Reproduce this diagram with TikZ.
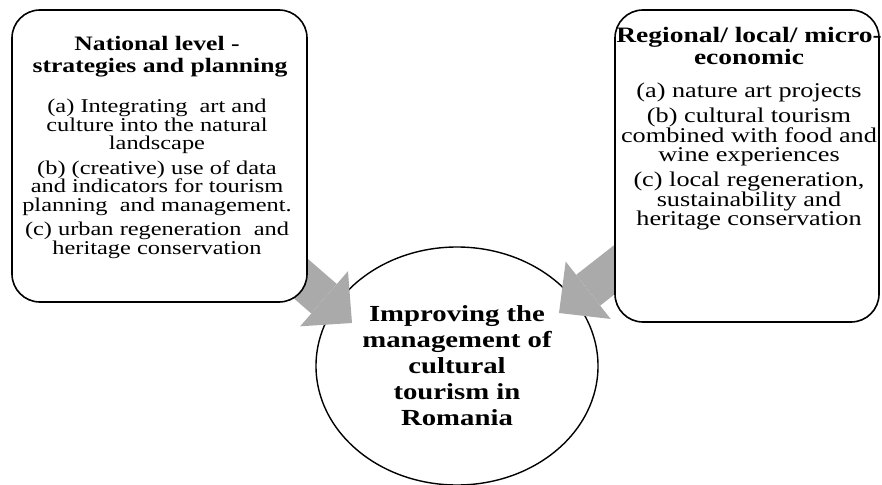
\documentclass[tikz,border=0pt]{standalone}
\usepackage{fontspec}
\setmainfont{Liberation Serif}[FakeStretch=1.25]
\usepackage{tikz}
\usetikzlibrary{arrows.meta,shapes.geometric,positioning}
\definecolor{arrowgray}{RGB}{170,170,170}

\begin{document}
\begin{tikzpicture}[x=1pt,y=-1pt,
        box/.style={draw,fill=white,rounded corners=28pt,line width=1.6pt,inner sep=0pt},
        head/.style={align=center,inner sep=0pt,font=\fontsize{20.5}{22}\selectfont\bfseries},
        body/.style={align=center,inner sep=0pt,font=\fontsize{19.5}{18.5}\selectfont},
        bigarrow/.style={arrowgray,line width=39pt,-{Triangle[width=73pt,length=37pt,line width=0pt]}}]
                \useasboundingbox (0,0) rectangle (882,484);

                \coordinate (natl-c) at (159.5,156);
                \coordinate (regl-c) at (747,166);
                \coordinate (natl-tip) at (352,323);
                \coordinate (regl-tip) at (559,313);

                \node[draw,ellipse,line width=1.4pt,minimum width=282pt,minimum height=238pt,
                        align=center,font=\fontsize{23}{26}\selectfont\bfseries] (goal) at (457,366)
                        {Improving the\\management of\\cultural\\tourism in\\Romania};

                \draw[bigarrow] (natl-c) -- (natl-tip);
                \draw[bigarrow] (regl-c) -- (regl-tip);

                \node[box,minimum width=295pt,minimum height=292pt] (natl) at (natl-c) {};
                \node[head,anchor=north] (natl-head) at (157,36) {National level\ -\\\hspace*{6pt}strategies and planning};
                \node[body,below=22pt of natl-head] (natl-body) {(a) Integrating\ \ art and\\culture into the natural\\landscape\\[6pt]
                        (b) (creative) use of data\\and indicators for tourism\\planning\ \ and management.\\[6pt]
                        (c) urban regeneration\ \ and\\heritage conservation};

                \node[box,minimum width=264pt,minimum height=312pt] (regl) at (regl-c) {};
                \node[head,anchor=north,font=\fontsize{22}{22}\selectfont\bfseries] (regl-head) at (749,27)
                        {Regional/ local/ micro-\\economic};
                \node[body,below=18pt of regl-head,font=\fontsize{21}{19.5}\selectfont] (regl-body) {(a) nature art projects\\[5.5pt]
                        (b) cultural tourism\\combined with food and\\wine experiences\\[5.5pt]
                        (c) local regeneration,\\sustainability and\\heritage conservation};
\end{tikzpicture}
\end{document}
